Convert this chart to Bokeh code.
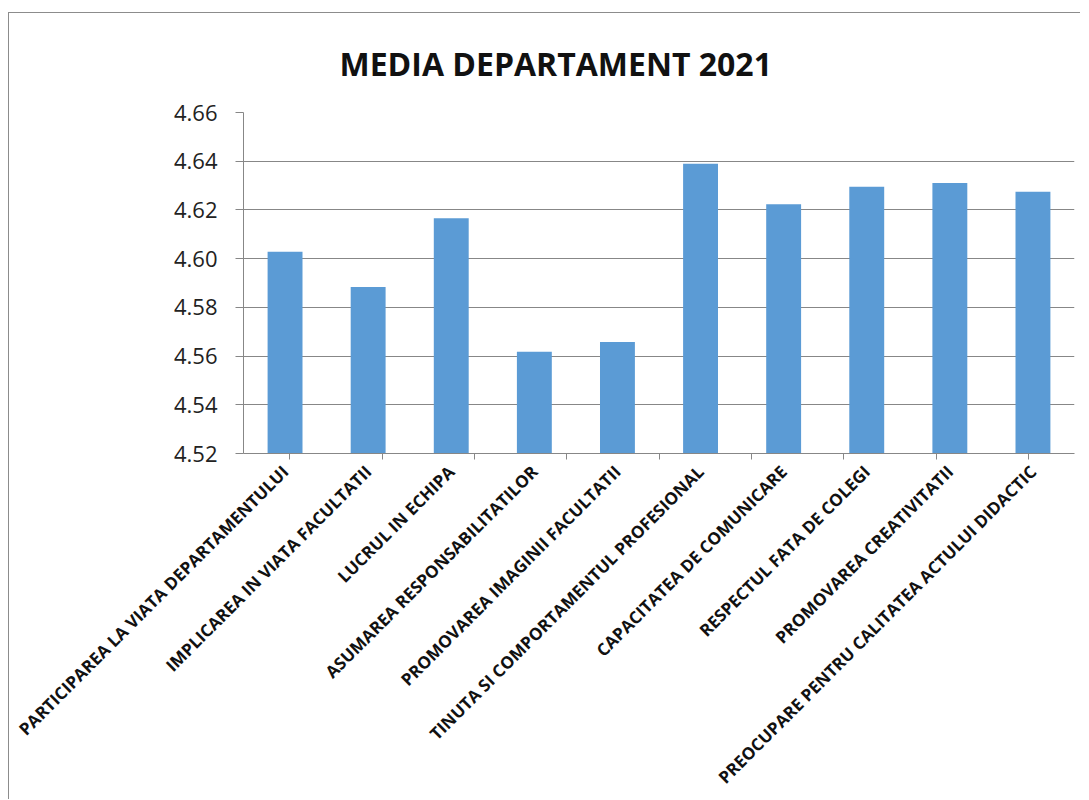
import math
from bokeh.plotting import figure
from bokeh.models import (Range1d, FactorRange, CategoricalAxis,
                          FixedTicker, Title, NumeralTickFormatter)
from bokeh.embed import file_html
from bokeh.resources import INLINE

categories = [
    "PARTICIPAREA LA VIATA DEPARTAMENTULUI",
    "IMPLICAREA IN VIATA FACULTATII",
    "LUCRUL IN ECHIPA",
    "ASUMAREA RESPONSABILITATILOR",
    "PROMOVAREA IMAGINII FACULTATII",
    "TINUTA SI COMPORTAMENTUL PROFESIONAL",
    "CAPACITATEA DE COMUNICARE",
    "RESPECTUL FATA DE COLEGI",
    "PROMOVAREA CREATIVITATII",
    "PREOCUPARE PENTRU CALITATEA ACTULUI DIDACTIC",
]
values = [4.6028, 4.5884, 4.6166, 4.5618, 4.5658,
          4.6390, 4.6223, 4.6295, 4.6311, 4.6275]
y_ticks = [4.52, 4.54, 4.56, 4.58, 4.60, 4.62, 4.64, 4.66]
title_text = "MEDIA DEPARTAMENT 2021"

GRAY = "#878787"
BAR = "#5B9BD5"

p = figure(
    width=1072, height=787,
    x_range=FactorRange(factors=categories, range_padding=0),
    y_range=Range1d(y_ticks[0], y_ticks[-1]),
    x_axis_location=None,
    output_backend="svg", toolbar_location=None, tools="",
    min_border_left=234, min_border_right=7,
    min_border_top=99, min_border_bottom=347,
)
p.margin = (12, 0, 0, 8)
p.styles = {"border-top": "1px solid #8c8c8c", "border-left": "1px solid #8c8c8c"}
p.outline_line_color = None
p.background_fill_color = "white"
p.border_fill_color = "white"

p.vbar(x=categories, top=values, bottom=y_ticks[0], width=0.42,
       fill_color=BAR, line_color=None)

# Title
p.add_layout(Title(text=title_text, text_font="Open Sans", text_font_size="32px",
                   text_font_style="bold", text_color="#111111",
                   align="left", offset=96, vertical_align="top",
                   standoff=52), "above")

# y axis
yax = p.yaxis[0]
yax.ticker = FixedTicker(ticks=y_ticks)
yax.formatter = NumeralTickFormatter(format="0.00")
yax.axis_line_color = GRAY
yax.major_tick_line_color = GRAY
yax.major_tick_out = 8
yax.major_tick_in = 0
yax.minor_tick_line_color = None
yax.major_label_text_font = "Open Sans"
yax.major_label_text_font_size = "22px"
yax.major_label_text_color = "#222222"
yax.major_label_standoff = 18

p.ygrid.grid_line_color = GRAY
p.ygrid.grid_line_width = 1
p.ygrid.ticker = FixedTicker(ticks=y_ticks)
p.xgrid.grid_line_color = None

# boundary ticks axis (category separators): one factor per boundary,
# negative padding puts the first/last boundary factors on the frame edges
bounds = ["b%d" % i for i in range(len(categories) + 1)]
p.extra_x_ranges = {"bounds": FactorRange(factors=bounds, range_padding=-1,
                                          range_padding_units="absolute")}
bax = CategoricalAxis(x_range_name="bounds")
bax.axis_line_color = GRAY
bax.major_tick_line_color = GRAY
bax.major_tick_out = 6
bax.major_tick_in = 0
bax.minor_tick_line_color = None
bax.major_label_text_font_size = "0px"
bax.major_label_text_alpha = 0
bax.major_label_standoff = 0
p.add_layout(bax, "below")

# category labels axis
cax = CategoricalAxis()
cax.axis_line_color = None
cax.major_tick_line_color = None
cax.minor_tick_line_color = None
cax.major_label_orientation = math.pi / 4
cax.major_label_text_font = "Open Sans"
cax.major_label_text_font_style = "bold"
cax.major_label_text_font_size = "17px"
cax.major_label_text_color = "#111111"
cax.major_label_standoff = 3
p.add_layout(cax, "below")

open("out.html", "w").write(file_html(p, INLINE))
